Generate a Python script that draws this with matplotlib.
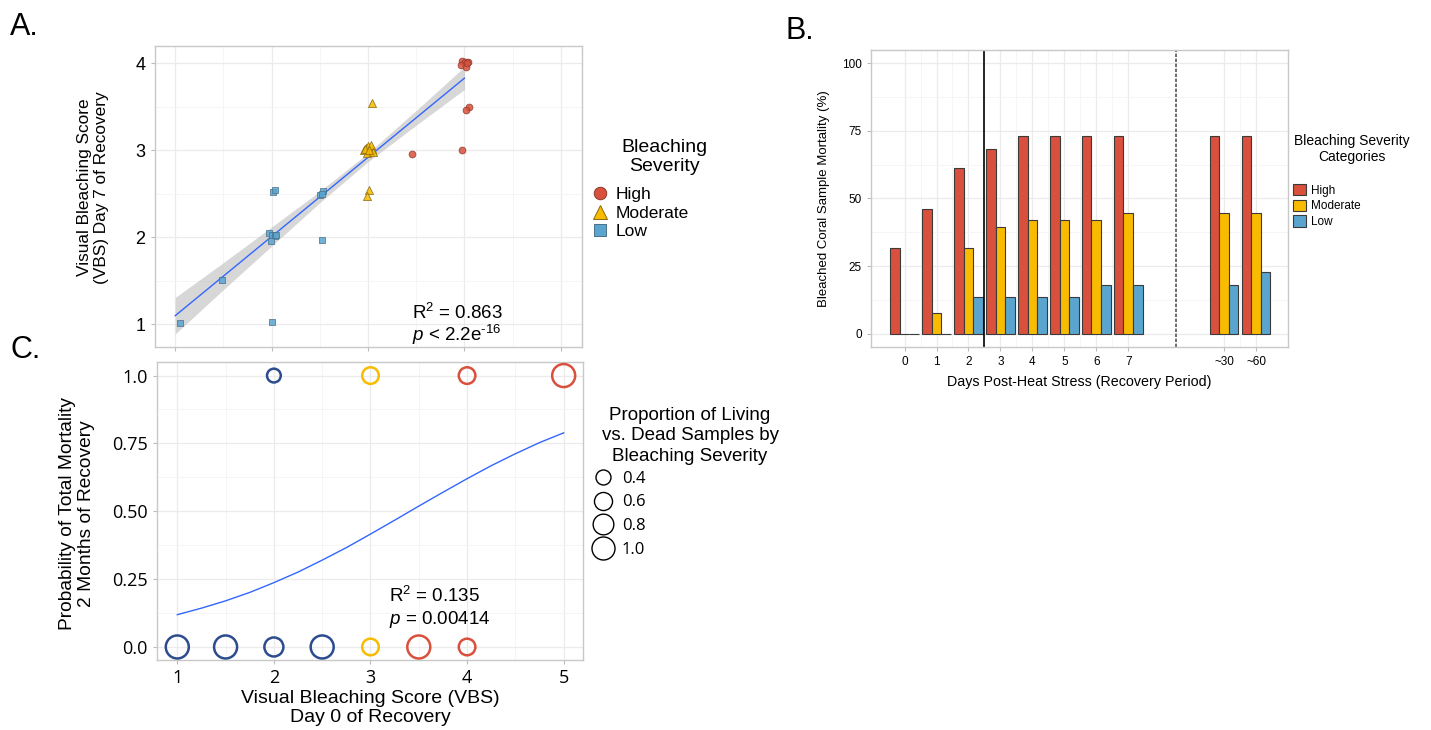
import numpy as np
import matplotlib
matplotlib.use("Agg")
import matplotlib.pyplot as plt
from matplotlib.lines import Line2D
from matplotlib.patches import Patch

plt.rcParams['font.family'] = ['Liberation Sans', 'DejaVu Sans']
plt.rcParams['mathtext.fontset'] = 'custom'
plt.rcParams['mathtext.rm'] = 'Liberation Sans'
plt.rcParams['mathtext.it'] = 'Liberation Sans:italic'

# ---- panel A data: VBS day 0 (x) vs VBS day 7 (y), jittered points
high_x = [3.98, 4.01, 4.04, 3.96, 4.02, 4.03, 4.05, 4.02, 3.98, 3.46]
high_y = [4.03, 4.02, 4.02, 3.98, 3.96, 4.01, 3.50, 3.46, 3.01, 2.96]
mod_x = [2.96, 2.98, 3.00, 3.02, 3.04, 2.99, 3.03, 3.05, 2.97, 3.01, 3.04, 3.01, 2.99]
mod_y = [3.00, 3.03, 3.05, 2.99, 3.02, 2.97, 3.06, 2.98, 3.02, 3.01, 3.54, 2.54, 2.47]
low_x = [2.01, 2.03, 2.50, 2.53, 2.52, 1.97, 2.00, 2.03, 2.05, 1.99, 2.52, 1.49, 1.05, 2.00]
low_y = [2.52, 2.55, 2.49, 2.53, 2.50, 2.05, 2.03, 2.02, 2.03, 1.96, 1.97, 1.51, 1.02, 1.03]

# linear fit with 95% band, read at fixed x
fit_x = [1.0, 1.5, 2.0, 2.5, 3.0, 3.5, 4.0]
fit_y = [1.10, 1.555, 2.01, 2.465, 2.92, 3.375, 3.83]
fit_lo = [0.89, 1.40, 1.90, 2.40, 2.87, 3.29, 3.70]
fit_hi = [1.31, 1.71, 2.12, 2.53, 2.97, 3.46, 3.96]

# ---- panel B data: mortality (%) by day
days = ['0', '1', '2', '3', '4', '5', '6', '7', '~30', '~60']
day_pos = [0, 1, 2, 3, 4, 5, 6, 7, 10, 11]
mort_high = [31.6, 46.3, 61.1, 68.4, 73.0, 73.0, 73.0, 73.0, 73.0, 73.0]
mort_mod = [0, 7.9, 31.6, 39.4, 42.0, 42.0, 42.0, 44.7, 44.7, 44.7]
mort_low = [0, 0, 13.7, 13.7, 13.7, 13.7, 18.1, 18.1, 18.1, 22.8]

# ---- panel C data: logistic fit + proportions
curve_x = [1.0, 1.25, 1.5, 1.75, 2.0, 2.25, 2.5, 2.75, 3.0,
           3.25, 3.5, 3.75, 4.0, 4.25, 4.5, 4.75, 5.0]
curve_y = [0.119, 0.143, 0.170, 0.201, 0.237, 0.276, 0.320, 0.366, 0.416,
           0.467, 0.519, 0.570, 0.620, 0.668, 0.712, 0.753, 0.789]
prop_x = [2, 3, 4, 5, 1, 1.5, 2, 2.5, 3, 3.5, 4]
prop_y = [1, 1, 1, 1, 0, 0, 0, 0, 0, 0, 0]
prop_val = [0.33, 0.5, 0.5, 1.0, 1.0, 1.0, 0.67, 1.0, 0.5, 1.0, 0.5]
prop_sev = ['Low', 'Moderate', 'High', 'High', 'Low', 'Low', 'Low', 'Low',
            'Moderate', 'High', 'High']

RED = '#d9503c'
YEL = '#f9bb00'
BLU = '#5aa5cf'
NAVY = '#2c4c8f'
GRID = '#ebebeb'
SPINE = '#c8c8c8'
sev_col = {'High': RED, 'Moderate': YEL, 'Low': NAVY}

W, H = 1431, 730
fig = plt.figure(figsize=(W / 100, H / 100), dpi=100)


def fx(px):
    return px / W


def fy(py):
    return 1 - py / H


def style(ax):
    for s in ax.spines.values():
        s.set_color(SPINE)
        s.set_linewidth(1.0)
    ax.grid(True, which='major', color=GRID, lw=0.9)
    ax.grid(True, which='minor', color='#f4f4f4', lw=0.6)
    ax.set_axisbelow(True)
    ax.tick_params(which='major', color='#bbbbbb', length=3)
    ax.tick_params(which='minor', length=0)


def circ_size(p):
    d = np.sqrt(225 + 507 * (p - 0.4))  # diameter in px
    return (0.72 * d) ** 2


# ================= panel A
axA = fig.add_axes([fx(155), fy(347), fx(582 - 155), (347 - 46) / H])
style(axA)
axA.fill_between(fit_x, fit_lo, fit_hi, color='#bdbdbd', alpha=0.6, lw=0)
axA.plot(fit_x, fit_y, color='#3366ff', lw=1.0)
axA.scatter(low_x, low_y, marker='s', s=22, c=BLU, edgecolors='#4a6f88',
            linewidths=0.6, alpha=0.85, zorder=3)
axA.scatter(mod_x, mod_y, marker='^', s=34, c=YEL, edgecolors='#8a6a10',
            linewidths=0.6, alpha=0.85, zorder=3)
axA.scatter(high_x, high_y, marker='o', s=24, c=RED, edgecolors='#8a3a2c',
            linewidths=0.6, alpha=0.85, zorder=3)
axA.set_xlim(0.79, 5.22)
axA.set_ylim(0.74, 4.2)
axA.set_xticks([1, 2, 3, 4, 5])
axA.set_xticks([1.5, 2.5, 3.5, 4.5], minor=True)
axA.set_xticklabels([])
axA.set_yticks([1, 2, 3, 4])
axA.set_yticks([1.5, 2.5, 3.5], minor=True)
axA.tick_params(axis='y', labelsize=13, pad=4)
axA.set_ylabel('Visual Bleaching Score\n(VBS) Day 7 of Recovery', fontsize=12.4,
               va='center', linespacing=1.15)
axA.yaxis.set_label_coords((93 - 155) / 427, 0.53)
axA.text(3.46, 1.13, r'R$^2$ = 0.863', fontsize=13.5, va='center')
axA.text(3.46, 0.875, r'$p$ < 2.2e$^{‐16}$', fontsize=13.5, va='center')

legA = [Line2D([], [], ls='', marker='o', ms=9, mfc=RED, mec='#8a3a2c', mew=0.7),
        Line2D([], [], ls='', marker='^', ms=9.5, mfc=YEL, mec='#8a6a10', mew=0.7),
        Line2D([], [], ls='', marker='s', ms=9, mfc=BLU, mec='#4a6f88', mew=0.7)]
fig.legend(legA, ['High', 'Moderate', 'Low'], loc='upper left',
           bbox_to_anchor=(fx(592), fy(187)), frameon=False, fontsize=12.5,
           handlelength=0.9, handletextpad=0.45, labelspacing=0.2,
           borderaxespad=0, borderpad=0)
fig.text(fx(664), fy(157), 'Bleaching\nSeverity', fontsize=14, ha='center',
         va='center', linespacing=1.15)

# ================= panel B
axB = fig.add_axes([fx(871), fy(347), fx(1288 - 871), (347 - 50) / H])
style(axB)
pos = np.array(day_pos, dtype=float)
bw = 0.3
axB.bar(pos - bw, mort_high, bw, color=RED, edgecolor='#3a3a3a', lw=0.8)
axB.bar(pos, mort_mod, bw, color=YEL, edgecolor='#3a3a3a', lw=0.8)
axB.bar(pos + bw, mort_low, bw, color=BLU, edgecolor='#3a3a3a', lw=0.8)
axB.axvline(2.5, color='black', lw=1.2)
axB.axvline(8.5, color='#555555', lw=1.2, ls=(0, (2, 1)))
axB.set_xlim(-1.05, 12.0)
axB.set_ylim(-4.8, 104.8)
axB.set_xticks(day_pos)
axB.set_xticklabels(days)
axB.set_xticks([0.5, 1.5, 2.5, 3.5, 4.5, 5.5, 6.5, 8.5, 10.5], minor=True)
axB.set_yticks([0, 25, 50, 75, 100])
axB.set_yticks([12.5, 37.5, 62.5, 87.5], minor=True)
axB.tick_params(labelsize=8.5)
axB.set_ylabel('Bleached Coral Sample Mortality (%)', fontsize=9.5, labelpad=9)
axB.set_xlabel('Days Post-Heat Stress (Recovery Period)', fontsize=10.3, labelpad=5)

legB = [Patch(facecolor=RED, edgecolor='#3a3a3a', lw=0.8),
        Patch(facecolor=YEL, edgecolor='#3a3a3a', lw=0.8),
        Patch(facecolor=BLU, edgecolor='#3a3a3a', lw=0.8)]
fig.legend(legB, ['High', 'Moderate', 'Low'], loc='upper left',
           bbox_to_anchor=(fx(1293), fy(184)), frameon=False, fontsize=8.5,
           handlelength=1.1, handleheight=1.1, handletextpad=0.4,
           labelspacing=0.25, borderaxespad=0, borderpad=0)
fig.text(fx(1352), fy(149), 'Bleaching Severity\nCategories', fontsize=10,
         ha='center', va='center', linespacing=1.25)

# ================= panel C
axC = fig.add_axes([fx(157), fy(660), fx(583 - 157), (660 - 362) / H])
style(axC)
axC.plot(curve_x, curve_y, color='#3366ff', lw=1.0)
axC.scatter(prop_x, prop_y, s=[circ_size(p) for p in prop_val], facecolors='none',
            edgecolors=[sev_col[s] for s in prop_sev], linewidths=1.8, zorder=3,
            clip_on=False)
axC.set_xlim(0.79, 5.2)
axC.set_ylim(-0.048, 1.05)
axC.set_xticks([1, 2, 3, 4, 5])
axC.set_xticks([1.5, 2.5, 3.5, 4.5], minor=True)
axC.set_yticks([0, 0.25, 0.5, 0.75, 1.0])
axC.set_yticklabels(['0.0', '0.25', '0.50', '0.75', '1.0'])
axC.set_yticks([0.125, 0.375, 0.625, 0.875], minor=True)
for lab in axC.get_xticklabels() + axC.get_yticklabels():
    lab.set_fontfamily('Open Sans')
axC.tick_params(labelsize=13)
axC.set_ylabel('Probability of Total Mortality\n2 Months of Recovery', fontsize=13.8,
               va='center', linespacing=1.15)
axC.yaxis.set_label_coords((77 - 157) / 426, 0.49)
axC.set_xlabel('Visual Bleaching Score (VBS)\nDay 0 of Recovery', fontsize=14,
               va='center', linespacing=1.2)
axC.xaxis.set_label_coords(0.5, -(708 - 660) / 298)
axC.text(3.19, 0.188, r'R$^2$ = 0.135', fontsize=13.5, va='center')
axC.text(3.19, 0.10, r'$p$ = 0.00414', fontsize=13.5, va='center')

legC_vals = [0.4, 0.6, 0.8, 1.0]
legC = [Line2D([], [], ls='', marker='o', ms=np.sqrt(circ_size(v)), mfc='none',
               mec='black', mew=1.0) for v in legC_vals]
leg = fig.legend(legC, ['0.4', '0.6', '0.8', '1.0'], loc='upper left',
                 bbox_to_anchor=(fx(592), fy(471)), frameon=False, fontsize=12,
                 handlelength=1.3, handletextpad=0.5, labelspacing=0.45,
                 borderaxespad=0, borderpad=0)
for t in leg.get_texts():
    t.set_fontfamily('Open Sans')
fig.text(fx(690), fy(436), 'Proportion of Living\nvs. Dead Samples by\nBleaching Severity',
         fontsize=13.5, ha='center', va='center', linespacing=1.3)

# panel letters
fig.text(fx(10), fy(35), 'A.', fontsize=22)
fig.text(fx(785), fy(39), 'B.', fontsize=22)
fig.text(fx(10), fy(358), 'C.', fontsize=22)

fig.savefig('out.png', dpi=100)
